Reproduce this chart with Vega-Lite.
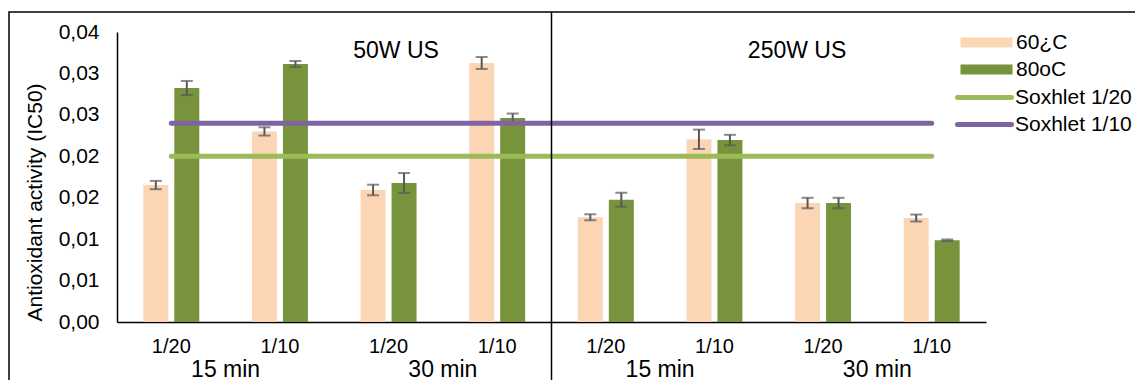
{
  "$schema": "https://vega.github.io/schema/vega-lite/v6.json",
  "width": 1128,
  "height": 370,
  "autosize": {"type": "none"},
  "padding": {"left": 9, "top": 12, "right": 0, "bottom": 0},
  "background": "white",
  "config": {
    "view": {"stroke": "black", "strokeWidth": 1.5},
    "font": "Liberation Sans",
    "axis": {"labelFont": "Liberation Sans", "titleFont": "Liberation Sans", "labelColor": "black", "titleColor": "black", "grid": false, "ticks": false, "domainColor": "black", "domainWidth": 1.5},
    "legend": {"labelFont": "Liberation Sans", "labelColor": "black"}
  },
  "datasets": {
    "bars": [
      {"cat": "50W|15 min|1/20", "temp": "60¿C", "ic50": 0.01653, "lo": 0.01603, "hi": 0.01703},
      {"cat": "50W|15 min|1/20", "temp": "80oC", "ic50": 0.02824, "lo": 0.02739, "hi": 0.02909},
      {"cat": "50W|15 min|1/10", "temp": "60¿C", "ic50": 0.0230, "lo": 0.0225, "hi": 0.0235},
      {"cat": "50W|15 min|1/10", "temp": "80oC", "ic50": 0.03114, "lo": 0.03078, "hi": 0.0315},
      {"cat": "50W|30 min|1/20", "temp": "60¿C", "ic50": 0.01593, "lo": 0.01529, "hi": 0.01657},
      {"cat": "50W|30 min|1/20", "temp": "80oC", "ic50": 0.01678, "lo": 0.01558, "hi": 0.01798},
      {"cat": "50W|30 min|1/10", "temp": "60¿C", "ic50": 0.03126, "lo": 0.03054, "hi": 0.03198},
      {"cat": "50W|30 min|1/10", "temp": "80oC", "ic50": 0.02462, "lo": 0.02408, "hi": 0.02516},
      {"cat": "250W|15 min|1/20", "temp": "60¿C", "ic50": 0.01264, "lo": 0.01228, "hi": 0.013},
      {"cat": "250W|15 min|1/20", "temp": "80oC", "ic50": 0.01476, "lo": 0.01392, "hi": 0.0156},
      {"cat": "250W|15 min|1/10", "temp": "60¿C", "ic50": 0.02205, "lo": 0.02088, "hi": 0.02322},
      {"cat": "250W|15 min|1/10", "temp": "80oC", "ic50": 0.02196, "lo": 0.02133, "hi": 0.02259},
      {"cat": "250W|30 min|1/20", "temp": "60¿C", "ic50": 0.01436, "lo": 0.01373, "hi": 0.01499},
      {"cat": "250W|30 min|1/20", "temp": "80oC", "ic50": 0.01436, "lo": 0.01373, "hi": 0.01499},
      {"cat": "250W|30 min|1/10", "temp": "60¿C", "ic50": 0.01255, "lo": 0.01213, "hi": 0.01297},
      {"cat": "250W|30 min|1/10", "temp": "80oC", "ic50": 0.00986, "lo": 0.00976, "hi": 0.00996}
    ],
    "sox": [
      {"series": "Soxhlet 1/20", "cat": "50W|15 min|1/20", "ic50": 0.0200},
      {"series": "Soxhlet 1/20", "cat": "250W|30 min|1/10", "ic50": 0.0200},
      {"series": "Soxhlet 1/10", "cat": "50W|15 min|1/20", "ic50": 0.0240},
      {"series": "Soxhlet 1/10", "cat": "250W|30 min|1/10", "ic50": 0.0240}
    ],
    "times": [
      {"cat": "50W|15 min|1/20", "label": "15 min"},
      {"cat": "50W|30 min|1/20", "label": "30 min"},
      {"cat": "250W|15 min|1/20", "label": "15 min"},
      {"cat": "250W|30 min|1/20", "label": "30 min"}
    ],
    "divider": [{"cat": "250W|15 min|1/20"}],
    "p50": [{"cat": "50W|30 min|1/20", "label": "50W US"}],
    "p250": [{"cat": "250W|30 min|1/20", "label": "250W US"}]
  },
  "layer": [
    {
      "data": {"name": "bars"},
      "mark": {"type": "bar"},
      "encoding": {
        "x": {
          "field": "cat", "type": "nominal", "title": null,
          "scale": {
            "domain": ["50W|15 min|1/20", "50W|15 min|1/10", "50W|30 min|1/20", "50W|30 min|1/10", "250W|15 min|1/20", "250W|15 min|1/10", "250W|30 min|1/20", "250W|30 min|1/10"],
            "range": [108, 977], "paddingInner": 0, "paddingOuter": 0
          },
          "axis": {"labelExpr": "split(datum.value, '|')[2]", "labelAngle": 0, "labelFontSize": 20, "labelPadding": 14, "offset": -60, "title": null}
        },
        "xOffset": {"field": "temp", "type": "nominal", "scale": {"domain": ["60¿C", "80oC"], "paddingInner": 0.194, "paddingOuter": 0.85}},
        "y": {
          "field": "ic50", "type": "quantitative", "title": "Antioxidant activity (IC50)",
          "scale": {"domain": [0, 0.035], "range": [310, 20], "nice": false},
          "axis": {
            "title": "Antioxidant activity (IC50)",
            "values": [0, 0.005, 0.01, 0.015, 0.02, 0.025, 0.03, 0.035],
            "labelExpr": "replace(format(datum.value + 0.000001, '.2f'), '.', ',')",
            "labelFontSize": 21, "labelPadding": 18, "offset": -108,
            "titleFontSize": 21, "titleFontWeight": "normal", "titleX": -82, "titleY": 190, "titleAngle": 270, "titleAlign": "center", "titleBaseline": "middle"
          }
        },
        "fill": {
          "field": "temp", "type": "nominal",
          "scale": {"domain": ["60¿C", "80oC"], "range": ["#FCD5B5", "#77933C"]},
          "legend": {"orient": "none", "legendX": 967, "legendY": 20, "title": null, "symbolType": "M-5.2,-1H5.2V1H-5.2Z", "symbolSize": 100, "symbolStrokeWidth": 0, "labelFontSize": 21, "labelOffset": 19, "rowPadding": 5}
        }
      }
    },
    {
      "data": {"name": "bars"},
      "mark": {"type": "rule", "color": "#595959", "strokeWidth": 2},
      "encoding": {
        "x": {"field": "cat", "type": "nominal", "title": null},
        "xOffset": {"field": "temp", "type": "nominal"},
        "y": {"field": "lo", "type": "quantitative", "title": "Antioxidant activity (IC50)"},
        "y2": {"field": "hi"}
      }
    },
    {
      "data": {"name": "bars"},
      "mark": {"type": "tick", "color": "#595959", "orient": "horizontal", "size": 12, "thickness": 2},
      "encoding": {
        "x": {"field": "cat", "type": "nominal", "title": null},
        "xOffset": {"field": "temp", "type": "nominal"},
        "y": {"field": "lo", "type": "quantitative", "title": "Antioxidant activity (IC50)"}
      }
    },
    {
      "data": {"name": "bars"},
      "mark": {"type": "tick", "color": "#595959", "orient": "horizontal", "size": 12, "thickness": 2},
      "encoding": {
        "x": {"field": "cat", "type": "nominal", "title": null},
        "xOffset": {"field": "temp", "type": "nominal"},
        "y": {"field": "hi", "type": "quantitative", "title": "Antioxidant activity (IC50)"}
      }
    },
    {
      "data": {"name": "sox"},
      "mark": {"type": "line", "strokeWidth": 5, "strokeCap": "round"},
      "encoding": {
        "x": {"field": "cat", "type": "nominal", "title": null},
        "y": {"field": "ic50", "type": "quantitative", "title": "Antioxidant activity (IC50)"},
        "stroke": {
          "field": "series", "type": "nominal",
          "scale": {"domain": ["Soxhlet 1/20", "Soxhlet 1/10"], "range": ["#9BBB59", "#8064A2"]},
          "legend": {"orient": "none", "legendX": 965, "legendY": 75, "title": null, "symbolType": "M-5.4,0H5.4", "symbolSize": 100, "symbolStrokeWidth": 5, "labelFontSize": 21, "labelOffset": 20, "rowPadding": 5,
            "encode": {"symbols": {"update": {"strokeCap": {"value": "round"}}}}}
        }
      }
    },
    {
      "data": {"name": "divider"},
      "mark": {"type": "rule", "color": "black", "strokeWidth": 1.5},
      "encoding": {
        "x": {"field": "cat", "type": "nominal", "title": null, "bandPosition": 0}
      }
    },
    {
      "data": {"name": "times"},
      "mark": {"type": "text", "fontSize": 23, "baseline": "alphabetic", "align": "center", "dy": 55, "color": "black"},
      "encoding": {
        "x": {"field": "cat", "type": "nominal", "title": null, "bandPosition": 1},
        "y": {"datum": 0},
        "text": {"field": "label"}
      }
    },
    {
      "data": {"name": "p50"},
      "mark": {"type": "text", "fontSize": 23, "baseline": "alphabetic", "align": "center", "dy": 26, "dx": 7.5, "color": "black"},
      "encoding": {
        "x": {"field": "cat", "type": "nominal", "title": null},
        "y": {"datum": 0.035},
        "text": {"field": "label"}
      }
    },
    {
      "data": {"name": "p250"},
      "mark": {"type": "text", "fontSize": 23, "baseline": "alphabetic", "align": "center", "dy": 26, "dx": -26, "color": "black"},
      "encoding": {
        "x": {"field": "cat", "type": "nominal", "title": null},
        "y": {"datum": 0.035},
        "text": {"field": "label"}
      }
    }
  ]
}
